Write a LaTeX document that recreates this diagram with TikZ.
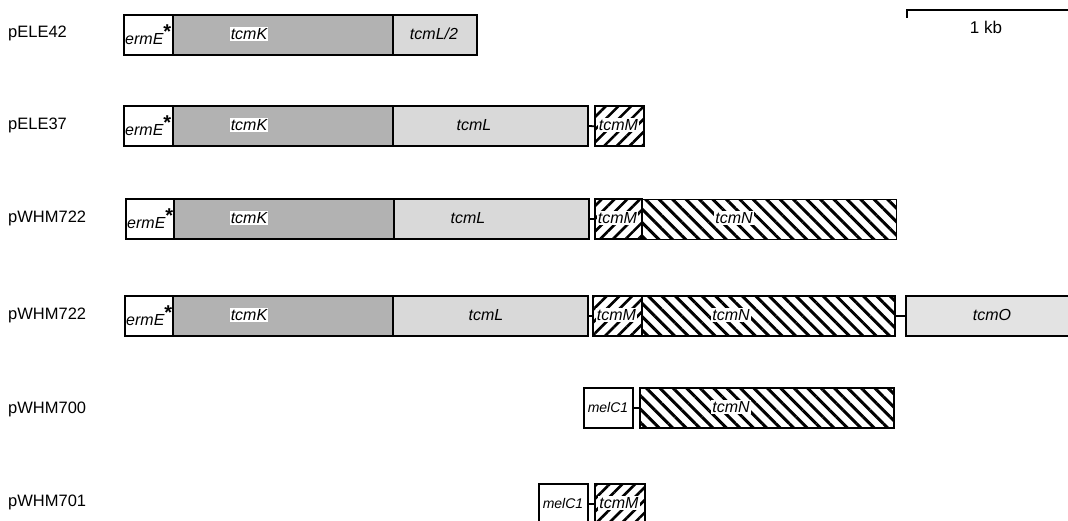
\documentclass[tikz,border=0pt]{standalone}
\usepackage{fontspec}
\setmainfont{Liberation Sans}
\usetikzlibrary{patterns.meta}
\definecolor{darkstip}{gray}{0.70}
\definecolor{lightstip}{gray}{0.85}
\definecolor{palestip}{gray}{0.89}
\tikzset{
  gene/.style={draw, line width=1.8pt, inner sep=0pt, minimum height=40pt, anchor=north west},
  plain/.style={gene, fill=white},
  dark/.style={gene, fill=darkstip},
  light/.style={gene, fill=lightstip},
  pale/.style={gene, fill=palestip},
  hatchN/.style={gene, pattern={Lines[angle=-45,distance=9.5pt,line width=3pt]}, pattern color=black},
  hatchM/.style={gene, pattern={Lines[angle=45,distance=9pt,line width=2.6pt]}, pattern color=black},
  glab/.style={font=\fontsize{16}{18}\selectfont\itshape, inner sep=1pt, fill=white},
  glabc/.style={font=\fontsize{16}{18}\selectfont\itshape, inner sep=1pt},
  mlab/.style={font=\fontsize{14}{16}\selectfont\itshape, inner sep=1pt},
  plab/.style={font=\fontsize{16.5}{19}\selectfont, anchor=west, inner sep=0pt},
  link/.style={line width=1.8pt},
}
\newcommand{\ermstar}{\textit{ermE}\rlap{\raisebox{0.38em}{\fontsize{20}{20}\selectfont\bfseries\upshape *}}}
\begin{document}
\begin{tikzpicture}[x=1pt,y=-1pt]
\useasboundingbox (0,0) rectangle (1068,521);
% scale bar
\coordinate (sb1) at (907,18);
\coordinate (sb2) at (907,10);
\coordinate (sb3) at (1070,10);
\draw[line width=1.3pt] (sb1) -- (sb2) -- (sb3);
\node[font=\fontsize{17}{19}\selectfont] (kb) at (986,27) {1 kb};

% row 1
\node[plab] (p1) at (8,33) {pELE42};
\node[plain, minimum width=49pt] (r1e) at (123,14) {};
\node[dark, minimum width=220pt] (r1k) at (172,14) {};
\node[light, minimum width=84pt] (r1l) at (392,14) {};
\node[glabc, anchor=west] (r1eL) at (124,35) {\ermstar};
\node[glab] (r1kL) at (249,34) {tcmK};
\node[glab, fill=lightstip] (r1lL) at (434,34) {tcmL/2};

% row 2
\node[plab] (p2) at (8,125) {pELE37};
\node[plain, minimum width=49pt] (r2e) at (123,105) {};
\node[dark, minimum width=220pt] (r2k) at (172,105) {};
\node[light, minimum width=195pt] (r2l) at (392,105) {};
\node[hatchM, minimum width=49pt] (r2m) at (594,105) {};
\draw[link] (r2l.east) -- (r2m.west);
\node[glabc, anchor=west] (r2eL) at (124,126) {\ermstar};
\node[glab] (r2kL) at (249,125) {tcmK};
\node[glab, fill=lightstip] (r2lL) at (474,125) {tcmL};
\node[glab] (r2mL) at (618.5,125) {tcmM};

% row 3
\node[plab] (p3) at (8,218) {pWHM722};
\node[plain, minimum width=48pt] (r3e) at (125,198) {};
\node[dark, minimum width=220pt] (r3k) at (173,198) {};
\node[light, minimum width=195pt] (r3l) at (393,198) {};
\node[hatchM, minimum width=47pt] (r3m) at (594,198) {};
\node[hatchN, minimum width=254pt] (r3n) at (641,198) {};
\draw[link] (r3l.east) -- (r3m.west);
\node[glabc, anchor=west] (r3eL) at (126,219) {\ermstar};
\node[glab] (r3kL) at (249,218) {tcmK};
\node[glab, fill=lightstip] (r3lL) at (468,218) {tcmL};
\node[glab] (r3mL) at (617.5,218) {tcmM};
\node[glab] (r3nL) at (734,218) {tcmN};

% row 4
\node[plab] (p4) at (8,315) {pWHM722};
\node[plain, minimum width=48pt] (r4e) at (124,295) {};
\node[dark, minimum width=220pt] (r4k) at (172,295) {};
\node[light, minimum width=195pt] (r4l) at (392,295) {};
\node[hatchM, minimum width=49pt] (r4m) at (592,295) {};
\node[hatchN, minimum width=253pt] (r4n) at (641,295) {};
\node[pale, minimum width=170pt] (r4o) at (905,295) {};
\draw[link] (r4l.east) -- (r4m.west);
\draw[link] (r4n.east) -- (r4o.west);
\node[glabc, anchor=west] (r4eL) at (125,316) {\ermstar};
\node[glab] (r4kL) at (249,315) {tcmK};
\node[glab, fill=lightstip] (r4lL) at (486,315) {tcmL};
\node[glab] (r4mL) at (616.5,315) {tcmM};
\node[glab] (r4nL) at (731,315) {tcmN};
\node[glab, fill=palestip] (r4oL) at (992,315) {tcmO};

% row 5
\node[plab] (p5) at (8,409) {pWHM700};
\node[plain, minimum width=49pt] (r5c) at (583,387) {};
\node[hatchN, minimum width=254pt] (r5n) at (639,387) {};
\draw[link] (r5c.east) -- (r5n.west);
\node[mlab] (r5cL) at (608,407) {melC1};
\node[glab] (r5nL) at (731,407) {tcmN};

% row 6
\node[plab] (p6) at (8,502) {pWHM701};
\node[plain, minimum width=49pt] (r6c) at (538,483) {};
\node[hatchM, minimum width=50pt] (r6m) at (594,483) {};
\draw[link] (r6c.east) -- (r6m.west);
\node[mlab] (r6cL) at (563,503) {melC1};
\node[glab] (r6mL) at (619,503) {tcmM};
\end{tikzpicture}
\end{document}
